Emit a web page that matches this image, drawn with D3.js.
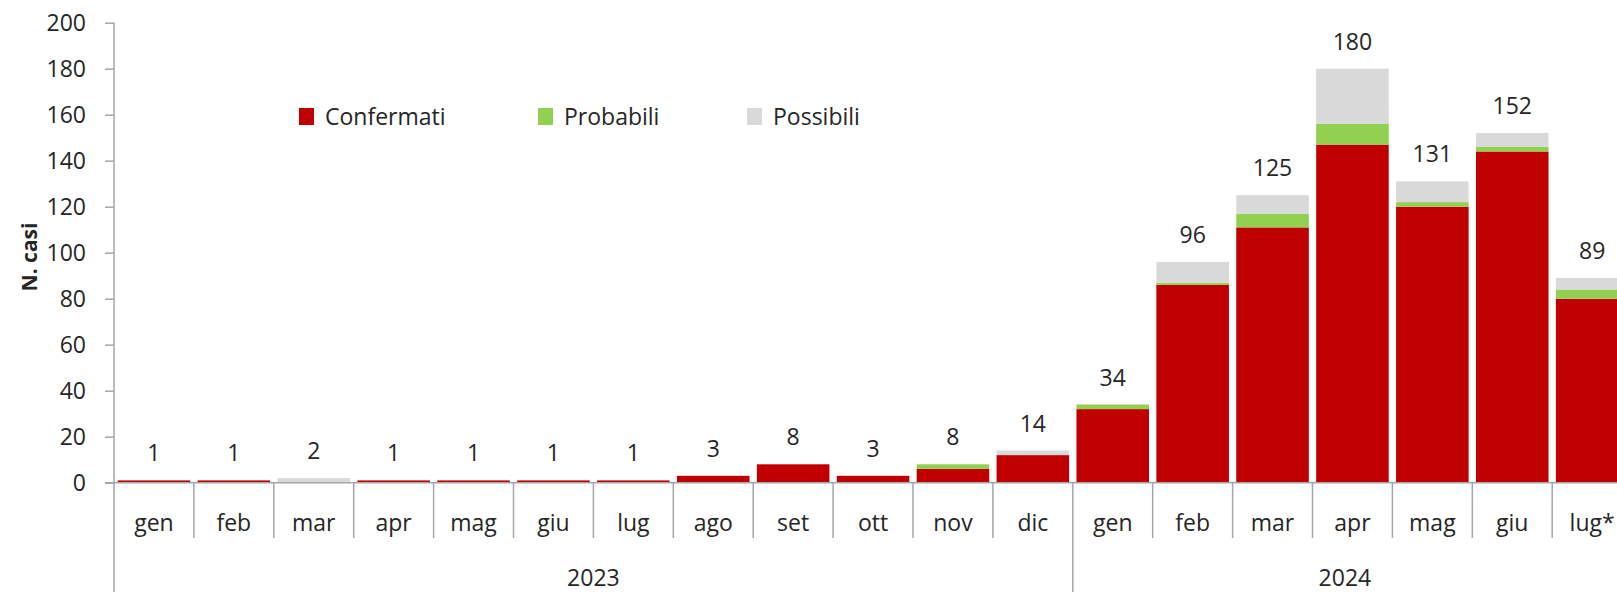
<!DOCTYPE html>
<html>
<head>
<meta charset="utf-8">
<script src="https://cdn.jsdelivr.net/npm/d3@7"></script>
<style>
  body { margin: 0; background: #fff; }
  text { font-family: "Open Sans", sans-serif; fill: #262626; }
</style>
</head>
<body>
<script>
var years = ["2023", "2024"];
var months2023 = ["gen", "feb", "mar", "apr", "mag", "giu", "lug", "ago", "set", "ott", "nov", "dic"];
var months2024 = ["gen", "feb", "mar", "apr", "mag", "giu", "lug*"];

var confermati = [1, 1, 0, 1, 1, 1, 1, 3, 8, 3, 6, 12, 32, 86, 111, 147, 120, 144, 80];
var probabili  = [0, 0, 0, 0, 0, 0, 0, 0, 0, 0, 2, 0, 2, 1, 6, 9, 2, 2, 4];
var possibili  = [0, 0, 2, 0, 0, 0, 0, 0, 0, 0, 0, 2, 0, 9, 8, 24, 9, 6, 5];
var totali     = [1, 1, 2, 1, 1, 1, 1, 3, 8, 3, 8, 14, 34, 96, 125, 180, 131, 152, 89];

var seriesNames = ["Confermati", "Probabili", "Possibili"];
var colors = ["#C00000", "#92D050", "#D9D9D9"];
var yTicks = [0, 20, 40, 60, 80, 100, 120, 140, 160, 180, 200];

var W = 1617, H = 592;
var x0 = 114, catW = 79.9;
var fs = "23px";

var svg = d3.select("body")
  .append("svg")
    .attr("width", W)
    .attr("height", H);

// rows for the stack
var keys = months2023.map(function(m) { return "2023-" + m; })
  .concat(months2024.map(function(m) { return "2024-" + m; }));
var data = keys.map(function(k, i) {
  return { key: k, label: k.split("-")[1], Confermati: confermati[i], Probabili: probabili[i], Possibili: possibili[i], total: totali[i] };
});

var x = d3.scaleBand()
  .domain(keys)
  .range([x0, x0 + catW * keys.length])
  .paddingInner(0.092)
  .paddingOuter(0.046);

var y = d3.scaleLinear()
  .domain([0, 200])
  .range([482.7, 22.7]);

var stack = d3.stack().keys(seriesNames)(data);

svg.append("g")
  .selectAll("g")
  .data(stack)
  .enter()
  .append("g")
    .attr("fill", function(d, i) { return colors[i]; })
  .selectAll("rect")
  .data(function(d) { return d; })
  .enter()
  .append("rect")
    .attr("x", function(d) { return x(d.data.key); })
    .attr("width", x.bandwidth())
    .attr("y", function(d) { return y(d[1]); })
    .attr("height", function(d) { return y(d[0]) - y(d[1]); });

// y axis
var yAxis = svg.append("g")
  .attr("transform", "translate(" + x0 + ",0)")
  .call(d3.axisLeft(y).tickValues(yTicks).tickSize(9).tickPadding(19));
yAxis.select(".domain").remove();
yAxis.selectAll("line").attr("stroke", "#a6a6a6").attr("stroke-width", 1.5);
yAxis.selectAll("text")
  .style("font-family", "Open Sans, sans-serif")
  .style("font-size", fs)
  .attr("fill", "#262626");

svg.append("line")
  .attr("x1", x0).attr("x2", x0)
  .attr("y1", y(200)).attr("y2", H)
  .attr("stroke", "#a6a6a6").attr("stroke-width", 1.5);

svg.append("line")
  .attr("x1", x0 - 9).attr("x2", W)
  .attr("y1", y(0)).attr("y2", y(0))
  .attr("stroke", "#a6a6a6").attr("stroke-width", 1.5);

// separators between months, the one between years goes down to the bottom
keys.forEach(function(k, i) {
  if (i == 0) return;
  var sx = x0 + catW * i;
  svg.append("line")
    .attr("x1", sx).attr("x2", sx)
    .attr("y1", y(0))
    .attr("y2", k == "2024-gen" ? H : 538)
    .attr("stroke", "#a6a6a6").attr("stroke-width", 1.5);
});

svg.append("g")
  .selectAll("text")
  .data(data)
  .enter()
  .append("text")
    .attr("x", function(d) { return x(d.key) + x.bandwidth() / 2; })
    .attr("y", 531)
    .attr("text-anchor", "middle")
    .style("font-size", fs)
    .text(function(d) { return d.label; });

// year labels
var mid2023 = (x0 + x0 + catW * 12) / 2;
var mid2024 = (x0 + catW * 12 + W) / 2;
svg.append("text")
  .attr("x", mid2023).attr("y", 586)
  .attr("text-anchor", "middle")
  .style("font-size", fs)
  .text(years[0]);
svg.append("text")
  .attr("x", mid2024).attr("y", 586)
  .attr("text-anchor", "middle")
  .style("font-size", fs)
  .text(years[1]);

// totals above bars
svg.append("g")
  .selectAll("text")
  .data(data)
  .enter()
  .append("text")
    .attr("x", function(d) { return x(d.key) + x.bandwidth() / 2; })
    .attr("y", function(d) { return y(d.total) - 19; })
    .attr("text-anchor", "middle")
    .style("font-size", fs)
    .text(function(d) { return d.total; });

svg.append("text")
  .attr("transform", "translate(37,257) rotate(-90)")
  .attr("text-anchor", "middle")
  .style("font-size", "21px")
  .style("font-weight", "bold")
  .text("N. casi");

// legend
var legX = [299, 538, 747];
var leg = svg.append("g")
  .selectAll("g")
  .data(seriesNames)
  .enter()
  .append("g")
    .attr("transform", function(d, i) { return "translate(" + legX[i] + ",108)"; });
leg.append("rect")
  .attr("width", 15).attr("height", 17)
  .attr("fill", function(d, i) { return colors[i]; });
leg.append("text")
  .attr("x", 26).attr("y", 17)
  .style("font-size", fs)
  .text(function(d) { return d; });
</script>
</body>
</html>
